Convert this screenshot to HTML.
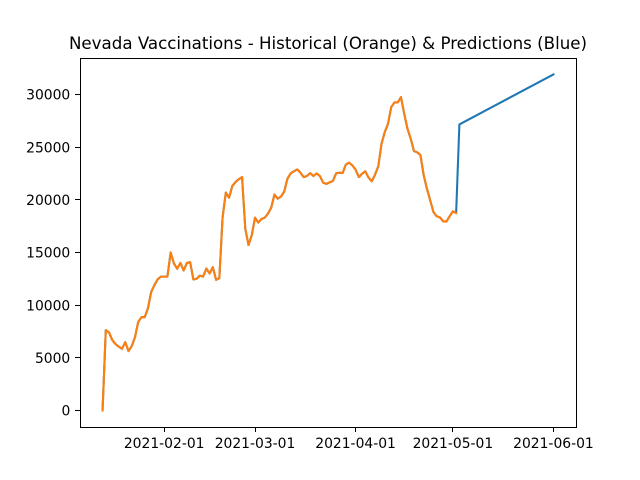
<!DOCTYPE html>
<html>
<head>
<meta charset="utf-8">
<title>Nevada Vaccinations</title>
<style>
html,body{margin:0;padding:0;background:#fff;}
svg{display:block;}
text{font-family:"DejaVu Sans",sans-serif;fill:#000;}
</style>
</head>
<body>
<svg id="chart" xmlns="http://www.w3.org/2000/svg" width="640" height="480" viewBox="0 0 640 480">
  <rect x="0" y="0" width="640" height="480" fill="#fff"/>
  <g id="lines"></g>
  <rect x="80.5" y="58.5" width="496" height="369" fill="none" stroke="#000" stroke-width="1" shape-rendering="crispEdges"/>
  <g id="xaxis"></g>
  <g id="yaxis"></g>
  <text x="328" y="49" text-anchor="middle" font-size="16.67">Nevada Vaccinations - Historical (Orange) &amp; Predictions (Blue)</text>
</svg>
<script>
const startDate = '2021-01-13';
const historyValues = [
  0,7620,7400,6680,6300,6050,5850,6480,5630,6100,
  6950,8400,8850,8850,9700,11250,11900,12450,12700,12700,
  12700,15000,13950,13450,14000,13280,14000,14070,12430,12500,
  12800,12700,13470,13000,13600,12400,12550,18300,20680,20200,
  21300,21680,21950,22150,17260,15700,16630,18300,17830,18170,
  18300,18680,19250,20500,20100,20300,20770,22000,22500,22700,
  22880,22570,22150,22250,22530,22250,22500,22250,21620,21500,
  21650,21780,22500,22570,22530,23330,23520,23270,22860,22150,
  22470,22700,22100,21750,22380,23170,25320,26420,27220,28800,
  29240,29240,29740,28160,26740,25800,24620,24500,24240,22320,
  21050,19950,18840,18430,18330,17950,17930,18430,18900,18740
];
const predictionDates = ['2021-05-03','2021-06-01'];
const predictionValues = [27150,31900];
const xTickDates = ['2021-02-01','2021-03-01','2021-04-01','2021-05-01','2021-06-01'];
const yTickValues = [0,5000,10000,15000,20000,25000,30000];

const NS = 'http://www.w3.org/2000/svg';
const plot = {left:80, right:576, top:57.6, bottom:427.2};
const DAY = 86400000;
const toDay = s => Date.parse(s + 'T00:00:00Z') / DAY;
const historyDays = historyValues.map((v, i) => toDay(startDate) + i);
const predictionDays = predictionDates.map(toDay);
const allDays = historyDays.concat(predictionDays);
const allValues = historyValues.concat(predictionValues);
const xMin = Math.min(...allDays), xMax = Math.max(...allDays);
const yMin = Math.min(...allValues), yMax = Math.max(...allValues);
const xPad = (xMax - xMin) * 0.05, yPad = (yMax - yMin) * 0.05;
function xScale(d){
  return plot.left + (d - (xMin - xPad)) / ((xMax + xPad) - (xMin - xPad)) * (plot.right - plot.left);
}
function yScale(v){
  return plot.bottom - (v - (yMin - yPad)) / ((yMax + yPad) - (yMin - yPad)) * (plot.bottom - plot.top);
}
function pointsOf(days, values){
  return days.map((d, i) => xScale(d).toFixed(2) + ',' + yScale(values[i]).toFixed(2)).join(' ');
}
const linesGroup = document.getElementById('lines');
const blue = document.createElementNS(NS, 'polyline');


blue.setAttribute('points', pointsOf(allDays, allValues));
blue.setAttribute('fill', 'none');
blue.setAttribute('stroke', '#1f77b4');
blue.setAttribute('stroke-width', '2.08');
blue.setAttribute('stroke-linejoin', 'round');
blue.setAttribute('stroke-linecap', 'square');
linesGroup.appendChild(blue);
const orange = document.createElementNS(NS, 'polyline');


orange.setAttribute('points', pointsOf(historyDays, historyValues));
orange.setAttribute('fill', 'none');
orange.setAttribute('stroke', '#ff7f0e');
orange.setAttribute('stroke-width', '2.08');
orange.setAttribute('stroke-linejoin', 'round');
orange.setAttribute('stroke-linecap', 'square');
linesGroup.appendChild(orange);

const xAxis = document.getElementById('xaxis');
xTickDates.forEach(label => {
  const x = xScale(toDay(label));
  const snappedX = Math.floor(x) + 0.5;
  const tick = document.createElementNS(NS, 'line');
  
  
  tick.setAttribute('x1', snappedX);
  tick.setAttribute('x2', snappedX);
  tick.setAttribute('y1', 428);
  tick.setAttribute('y2', 432);
  tick.setAttribute('stroke', '#000');
  tick.setAttribute('stroke-width', '1');
  tick.setAttribute('shape-rendering', 'crispEdges');
  xAxis.appendChild(tick);
  const text = document.createElementNS(NS, 'text');
  
  
  text.setAttribute('x', x);
  text.setAttribute('y', 448);
  text.setAttribute('text-anchor', 'middle');
  text.setAttribute('font-size', '13.89');
  text.textContent = label;
  xAxis.appendChild(text);
});
const yAxis = document.getElementById('yaxis');
yTickValues.forEach(value => {
  const y = yScale(value);
  const snappedY = Math.floor(y) + 0.5;
  const tick = document.createElementNS(NS, 'line');
  
  
  tick.setAttribute('x1', 75);
  tick.setAttribute('x2', 80);
  tick.setAttribute('y1', snappedY);
  tick.setAttribute('y2', snappedY);
  tick.setAttribute('stroke', '#000');
  tick.setAttribute('stroke-width', '1');
  tick.setAttribute('shape-rendering', 'crispEdges');
  yAxis.appendChild(tick);
  const text = document.createElementNS(NS, 'text');
  
  
  text.setAttribute('x', plot.left - 9.72);
  text.setAttribute('y', y + 5.3);
  text.setAttribute('text-anchor', 'end');
  text.setAttribute('font-size', '13.89');
  text.textContent = String(value);
  yAxis.appendChild(text);
});
</script>
</body>
</html>
